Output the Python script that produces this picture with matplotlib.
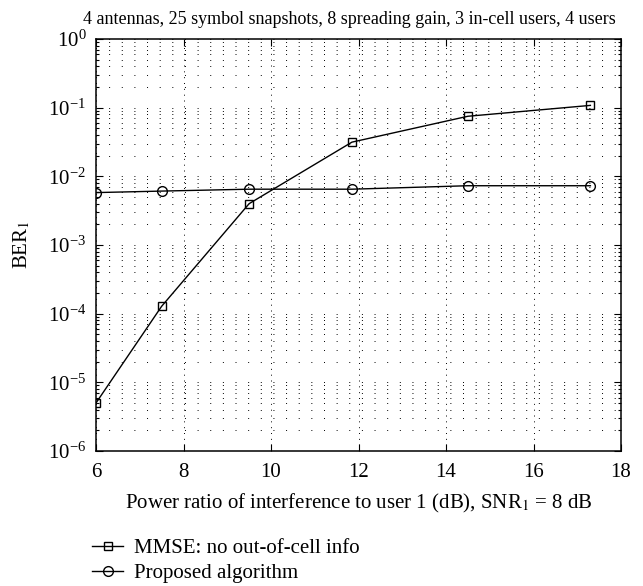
import numpy as np
import matplotlib
matplotlib.use('Agg')
import matplotlib.pyplot as plt
from matplotlib.ticker import LogLocator, NullFormatter, FixedLocator

plt.rcParams['font.family'] = ['Liberation Serif', 'DejaVu Serif']
plt.rcParams['mathtext.fontset'] = 'stix'

# data
power_ratio_db = [6, 7.5, 9.5, 11.85, 14.5, 17.3]
ber_mmse = [5.0e-6, 1.28e-4, 4.0e-3, 3.15e-2, 7.5e-2, 1.08e-1]
ber_proposed = [5.8e-3, 6.1e-3, 6.5e-3, 6.5e-3, 7.3e-3, 7.3e-3]
x_ticks = [6, 8, 10, 12, 14, 16, 18]

title = '4 antennas, 25 symbol snapshots, 8 spreading gain, 3 in-cell users, 4 users'
xlabel = 'Power ratio of interference to user 1 (dB), SNR$_1$ = 8 dB'
ylabel = 'BER$_1$'
legend_labels = ['MMSE: no out-of-cell info', 'Proposed algorithm']

fig = plt.figure(figsize=(6.43, 5.86), dpi=100)
ax = fig.add_axes([0.1493, 0.2304, 0.8165, 0.703])

l1, = ax.semilogy(power_ratio_db, ber_mmse, color='black', lw=1.0,
                  marker='s', markersize=5.5, markerfacecolor='none',
                  markeredgewidth=1.0)
l2, = ax.semilogy(power_ratio_db, ber_proposed, color='black', lw=1.0,
                  marker='o', markersize=7, markerfacecolor='none',
                  markeredgewidth=1.0)

ax.set_xlim(6, 18)
ax.set_ylim(1e-6, 1)
ax.xaxis.set_major_locator(FixedLocator(x_ticks))
ax.yaxis.set_major_locator(LogLocator(base=10, numticks=10))
ax.yaxis.set_minor_locator(LogLocator(base=10, subs=np.arange(2, 10), numticks=10))
ax.yaxis.set_minor_formatter(NullFormatter())

# matlab style dotted grid
ax.grid(True, which='major', axis='x', color='black',
        linestyle=(0, (1, 5)), linewidth=0.7)
ax.grid(True, which='both', axis='y', color='black',
        linestyle=(0, (1, 12)), linewidth=0.7)

ax.tick_params(which='both', direction='in', top=True, right=True, width=0.8)
ax.tick_params(which='major', length=5)
ax.tick_params(which='minor', length=2.5)
ax.tick_params(axis='x', labelsize=15, pad=9)
ax.tick_params(axis='y', labelsize=15, pad=7)
for s in ax.spines.values():
    s.set_linewidth(1.1)

ax.set_title(title, fontsize=13, pad=11, x=0.483)
ax.set_xlabel(xlabel, fontsize=15, labelpad=7)
ax.set_ylabel(ylabel, fontsize=15, labelpad=11)

fig.legend([l1, l2], legend_labels, loc='upper left',
           bbox_to_anchor=(0.143, 0.081), frameon=False, fontsize=15,
           handlelength=1.5, handletextpad=0.5, labelspacing=0.25,
           borderaxespad=0, borderpad=0)

fig.savefig('out.png', dpi=100)
